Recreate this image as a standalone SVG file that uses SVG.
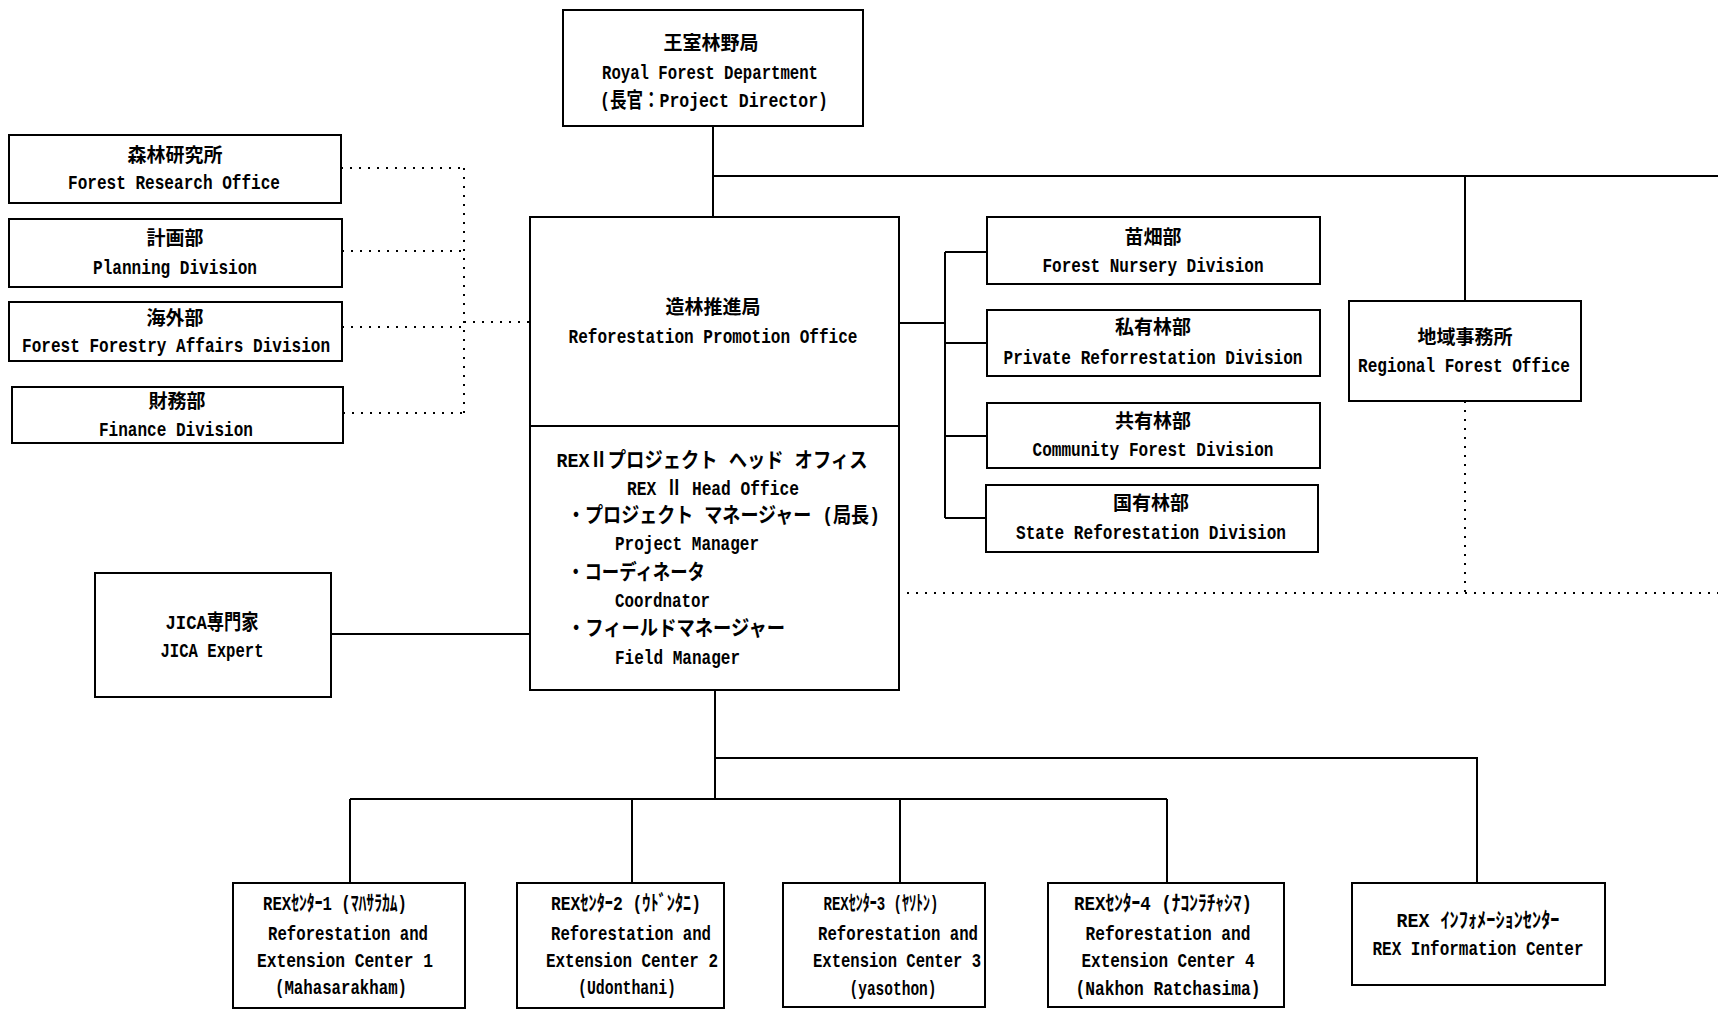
<svg xmlns="http://www.w3.org/2000/svg" width="1718" height="1011" viewBox="0 0 1718 1011">
  <style>
    .box { fill: #fff; stroke: #000; stroke-width: 2; }
    .ln { fill: none; stroke: #000; stroke-width: 2; }
    .dot { fill: none; stroke: #000; stroke-width: 2; stroke-dasharray: 2 7; }
    text { font-family: "Liberation Mono", "Noto Sans CJK JP", monospace; font-size: 21px; font-weight: bold; fill: #000; }
    .c { text-anchor: middle; }
    .j { font-size: 19px; }
  </style>
  <rect width="1718" height="1011" fill="#fff"/>

  <!-- connectors -->
  <g id="connectors">
    <!-- Royal Forest Department down to the promotion office, and trunk to the right -->
    <path class="ln" d="M713 126 V217"/>
    <path class="ln" d="M713 176 H1718"/>
    <path class="ln" d="M1465 176 V301"/>
    <!-- promotion office to its four divisions -->
    <path class="ln" d="M899 323 H945"/>
    <path class="ln" d="M945 252 V518"/>
    <path class="ln" d="M945 252 H987 M945 343 H987 M945 436 H987 M945 518 H986"/>
    <!-- JICA expert -->
    <path class="ln" d="M331 634 H530"/>
    <!-- head office down to the centers -->
    <path class="ln" d="M715 690 V799"/>
    <path class="ln" d="M715 758 H1477 V883"/>
    <path class="ln" d="M350 799 H1167"/>
    <path class="ln" d="M350 799 V883 M632 799 V883 M900 799 V883 M1167 799 V883"/>
    <!-- dotted coordination lines, left side -->
    <path class="dot" d="M341 168 H464 M342 251 H464 M342 327 H464 M343 413 H464"/>
    <path class="dot" d="M464 168 V413"/>
    <path class="dot" d="M464 322 H530"/>
    <!-- dotted line from the regional office -->
    <path class="dot" d="M1465 401 V593"/>
    <path class="dot" d="M907 593 H1718"/>
  </g>

  <g id="royal-forest-department">
    <rect class="box" x="563" y="10" width="300" height="116"/>
    <text class="c j" x="711" y="50">王室林野局</text>
    <text class="c" x="710" y="79" textLength="216" lengthAdjust="spacingAndGlyphs">Royal Forest Department</text>
    <text class="c" x="714" y="107" textLength="228" lengthAdjust="spacingAndGlyphs">(長官：Project Director)</text>
  </g>

  <g id="forest-research-office">
    <rect class="box" x="9" y="135" width="332" height="68"/>
    <text class="c j" x="175" y="162">森林研究所</text>
    <text class="c" x="174" y="189" textLength="212" lengthAdjust="spacingAndGlyphs">Forest Research Office</text>
  </g>

  <g id="planning-division">
    <rect class="box" x="9" y="219" width="333" height="68"/>
    <text class="c j" x="175" y="245">計画部</text>
    <text class="c" x="175" y="274" textLength="164" lengthAdjust="spacingAndGlyphs">Planning Division</text>
  </g>

  <g id="forest-affairs-division">
    <rect class="box" x="9" y="302" width="333" height="59"/>
    <text class="c j" x="175" y="325">海外部</text>
    <text class="c" x="176" y="352" textLength="308" lengthAdjust="spacingAndGlyphs">Forest Forestry Affairs Division</text>
  </g>

  <g id="finance-division">
    <rect class="box" x="12" y="387" width="331" height="56"/>
    <text class="c j" x="177" y="408">財務部</text>
    <text class="c" x="176" y="436" textLength="154" lengthAdjust="spacingAndGlyphs">Finance Division</text>
  </g>

  <g id="reforestation-promotion-office">
    <rect class="box" x="530" y="217" width="369" height="473"/>
    <path class="ln" d="M530 426 H899"/>
    <text class="c j" x="713" y="314">造林推進局</text>
    <text class="c" x="713" y="343" textLength="289" lengthAdjust="spacingAndGlyphs">Reforestation Promotion Office</text>
    <text class="c" x="712" y="467" textLength="311" lengthAdjust="spacingAndGlyphs">REXⅡプロジェクト ヘッド オフィス</text>
    <text class="c" x="713" y="495" textLength="172" lengthAdjust="spacingAndGlyphs">REX Ⅱ Head Office</text>
    <text x="567" y="522" textLength="313" lengthAdjust="spacingAndGlyphs">・プロジェクト マネージャー (局長)</text>
    <text x="615" y="550" textLength="144" lengthAdjust="spacingAndGlyphs">Project Manager</text>
    <text x="567" y="579" textLength="138" lengthAdjust="spacingAndGlyphs">・コーディネータ</text>
    <text x="615" y="607" textLength="95" lengthAdjust="spacingAndGlyphs">Coordnator</text>
    <text x="567" y="635" textLength="218" lengthAdjust="spacingAndGlyphs">・フィールドマネージャー</text>
    <text x="615" y="664" textLength="125" lengthAdjust="spacingAndGlyphs">Field Manager</text>
  </g>

  <g id="forest-nursery-division">
    <rect class="box" x="987" y="217" width="333" height="67"/>
    <text class="c j" x="1153" y="244">苗畑部</text>
    <text class="c" x="1153" y="272" textLength="221" lengthAdjust="spacingAndGlyphs">Forest Nursery Division</text>
  </g>

  <g id="private-reforestation-division">
    <rect class="box" x="987" y="310" width="333" height="66"/>
    <text class="c j" x="1153" y="334">私有林部</text>
    <text class="c" x="1153" y="364" textLength="299" lengthAdjust="spacingAndGlyphs">Private Reforrestation Division</text>
  </g>

  <g id="community-forest-division">
    <rect class="box" x="987" y="403" width="333" height="65"/>
    <text class="c j" x="1153" y="428">共有林部</text>
    <text class="c" x="1153" y="456" textLength="241" lengthAdjust="spacingAndGlyphs">Community Forest Division</text>
  </g>

  <g id="state-reforestation-division">
    <rect class="box" x="986" y="485" width="332" height="67"/>
    <text class="c j" x="1151" y="510">国有林部</text>
    <text class="c" x="1151" y="539" textLength="270" lengthAdjust="spacingAndGlyphs">State Reforestation Division</text>
  </g>

  <g id="regional-forest-office">
    <rect class="box" x="1349" y="301" width="232" height="100"/>
    <text class="c j" x="1465" y="344">地域事務所</text>
    <text class="c" x="1464" y="372" textLength="212" lengthAdjust="spacingAndGlyphs">Regional Forest Office</text>
  </g>

  <g id="jica-expert">
    <rect class="box" x="95" y="573" width="236" height="124"/>
    <text class="c" x="212" y="629" textLength="93" lengthAdjust="spacingAndGlyphs">JICA専門家</text>
    <text class="c" x="212" y="657" textLength="103" lengthAdjust="spacingAndGlyphs">JICA Expert</text>
  </g>

  <g id="rex-center-1">
    <rect class="box" x="233" y="883" width="232" height="125"/>
    <text class="c" x="335" y="910" textLength="144" lengthAdjust="spacingAndGlyphs">REXｾﾝﾀｰ1 (ﾏﾊｻﾗｶﾑ)</text>
    <text class="c" x="348" y="940" textLength="160" lengthAdjust="spacingAndGlyphs">Reforestation and</text>
    <text class="c" x="345" y="967" textLength="176" lengthAdjust="spacingAndGlyphs">Extension Center 1</text>
    <text class="c" x="341" y="994" textLength="132" lengthAdjust="spacingAndGlyphs">(Mahasarakham)</text>
  </g>

  <g id="rex-center-2">
    <rect class="box" x="517" y="883" width="207" height="125"/>
    <text class="c" x="626" y="910" textLength="150" lengthAdjust="spacingAndGlyphs">REXｾﾝﾀｰ2 (ｳﾄﾞﾝﾀﾆ)</text>
    <text class="c" x="631" y="940" textLength="160" lengthAdjust="spacingAndGlyphs">Reforestation and</text>
    <text class="c" x="632" y="967" textLength="172" lengthAdjust="spacingAndGlyphs">Extension Center 2</text>
    <text class="c" x="627" y="994" textLength="98" lengthAdjust="spacingAndGlyphs">(Udonthani)</text>
  </g>

  <g id="rex-center-3">
    <rect class="box" x="783" y="883" width="202" height="124"/>
    <text class="c" x="881" y="910" textLength="115" lengthAdjust="spacingAndGlyphs">REXｾﾝﾀｰ3 (ﾔｿﾄﾝ)</text>
    <text class="c" x="898" y="940" textLength="160" lengthAdjust="spacingAndGlyphs">Reforestation and</text>
    <text class="c" x="897" y="967" textLength="168" lengthAdjust="spacingAndGlyphs">Extension Center 3</text>
    <text class="c" x="893" y="995" textLength="87" lengthAdjust="spacingAndGlyphs">(yasothon)</text>
  </g>

  <g id="rex-center-4">
    <rect class="box" x="1048" y="883" width="236" height="124"/>
    <text class="c" x="1163" y="910" textLength="178" lengthAdjust="spacingAndGlyphs">REXｾﾝﾀｰ4 (ﾅｺﾝﾗﾁｬｼﾏ)</text>
    <text class="c" x="1168" y="940" textLength="165" lengthAdjust="spacingAndGlyphs">Reforestation and</text>
    <text class="c" x="1168" y="967" textLength="173" lengthAdjust="spacingAndGlyphs">Extension Center 4</text>
    <text class="c" x="1168" y="995" textLength="185" lengthAdjust="spacingAndGlyphs">(Nakhon Ratchasima)</text>
  </g>

  <g id="rex-information-center">
    <rect class="box" x="1352" y="883" width="253" height="102"/>
    <text class="c" x="1478" y="927" textLength="163" lengthAdjust="spacingAndGlyphs">REX ｲﾝﾌｫﾒｰｼｮﾝｾﾝﾀｰ</text>
    <text class="c" x="1478" y="955" textLength="211" lengthAdjust="spacingAndGlyphs">REX Information Center</text>
  </g>
</svg>
